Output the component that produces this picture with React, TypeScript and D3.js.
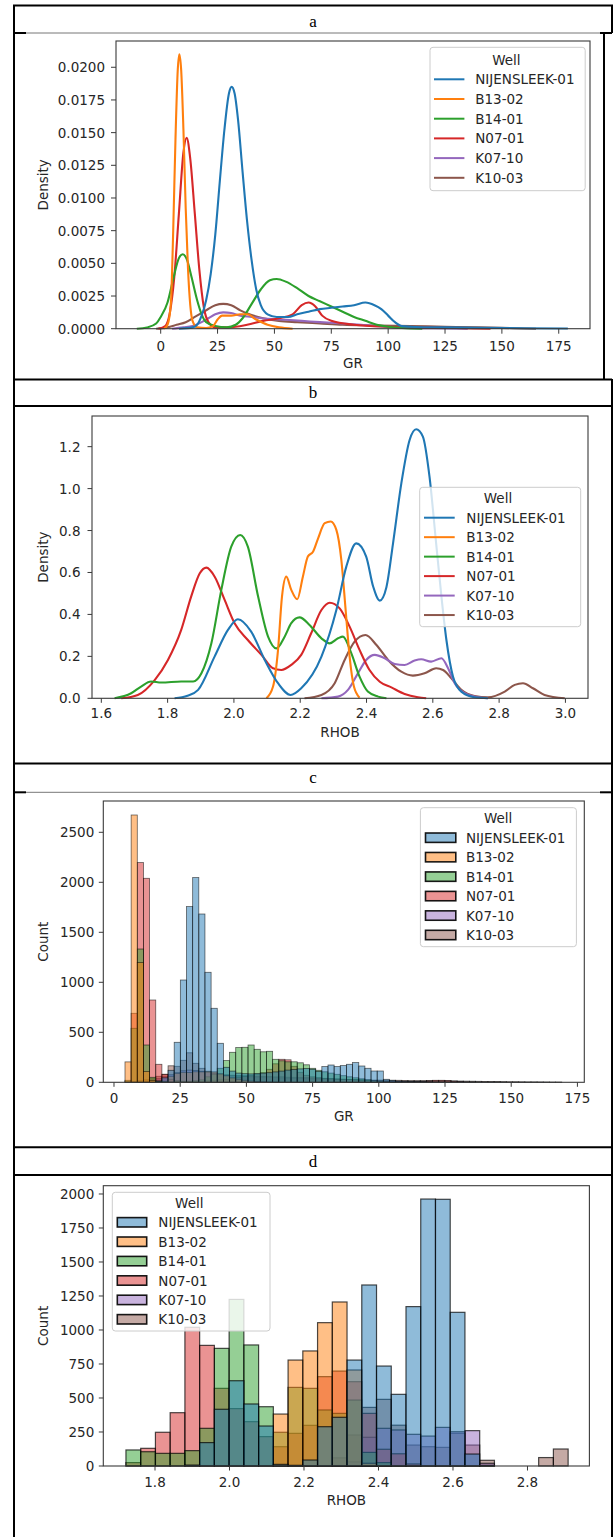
import React from "react";
import * as d3 from "d3";

const WELLS = ["NIJENSLEEK-01", "B13-02", "B14-01", "N07-01", "K07-10", "K10-03"];
const COLORS = ["#1f77b4", "#ff7f0e", "#2ca02c", "#d62728", "#9467bd", "#8c564b"];

// ---- Panel a: KDE of GR (x = GR, y = density) ----
const grKdeNij = [[8,0],[14,0.0001],[16,0.0003],[18,0.001],[20,0.0022],[22,0.0042],[24,0.0072],[26,0.0113],[28,0.0152],[30,0.018],[31.2,0.0185],[32.5,0.018],[34,0.016],[36,0.012],[38,0.0082],[40,0.0052],[42,0.003],[44,0.0018],[47,0.0011],[51,0.0009],[56,0.0009],[60,0.0011],[65,0.0013],[70,0.0015],[75,0.0016],[80,0.0017],[85,0.0018],[90,0.002],[94,0.0018],[97,0.0015],[100,0.001],[103,0.0005],[106,0.0002],[112,0.00013],[125,0.0001],[140,0.00007],[160,0.00004],[179,0.00001]];
const grKdeB13 = [[1.5,0],[3,0.0003],[4.5,0.002],[5.5,0.0075],[6.5,0.0145],[7.5,0.0198],[8.2,0.021],[9,0.0198],[10,0.0152],[11,0.0092],[12,0.0046],[13,0.0018],[14,0.0006],[16,0.0001],[20,0.00005],[23,0.0002],[25,0.0007],[27,0.001],[31,0.001],[35,0.0011],[38,0.0011],[42,0.0007],[47,0.0003],[52,0.0001],[58,0]];
const grKdeB14 = [[-10.5,0],[-6,0.0001],[-2,0.0004],[0,0.0009],[3,0.002],[5.5,0.0038],[8,0.0054],[9.7,0.0057],[11.5,0.0053],[13.5,0.004],[16,0.0022],[18,0.0011],[20,0.0005],[24,0.0002],[29,0.0001],[33,0.0003],[36,0.0008],[40,0.0019],[44,0.003],[48,0.0037],[51,0.0038],[55,0.0036],[60,0.0031],[65,0.0025],[70,0.0021],[75,0.0017],[80,0.0013],[85,0.0009],[90,0.0006],[95,0.0003],[100,0.00015],[106,0.00005],[115,0]];
const grKdeN07 = [[-1,0],[2,0.0002],[4,0.0012],[6,0.004],[8,0.0088],[10,0.0135],[11.4,0.0146],[13,0.013],[15,0.0088],[17,0.0045],[19,0.0016],[21,0.0005],[24,0.0001],[30,0.0001],[38,0.0003],[45,0.0006],[52,0.0008],[58,0.0011],[62,0.0018],[65,0.002],[68,0.0017],[71,0.001],[75,0.0006],[85,0.0003],[100,0.00015],[115,0.0001],[130,0.00005],[145,0]];
const grKdeK07 = [[5,0],[10,0.0001],[14,0.0002],[18,0.0005],[21,0.0008],[24,0.0011],[27.5,0.00125],[31,0.0012],[35,0.001],[40,0.0009],[47,0.00075],[55,0.00068],[62,0.0006],[70,0.0005],[80,0.0004],[88,0.0003],[95,0.0002],[105,0.0001],[120,0.00003],[135,0]];
const grKdeK10 = [[-2,0],[3,0.0001],[7,0.0003],[11,0.0005],[15,0.0009],[20,0.0014],[24,0.0018],[27.5,0.0019],[31,0.0018],[35,0.0014],[39,0.0011],[45,0.0008],[52,0.0006],[60,0.0005],[70,0.0004],[80,0.0003],[95,0.00025],[110,0.0002],[125,0.00015],[140,0.0001],[155,0.00004],[165,0]];

// ---- Panel b: KDE of RHOB ----
const rhobKdeNij = [[1.821,0],[1.86,0.012],[1.892,0.04],[1.942,0.2],[1.982,0.326],[2.012,0.377],[2.052,0.318],[2.093,0.183],[2.133,0.072],[2.171,0.016],[2.203,0.048],[2.264,0.199],[2.309,0.421],[2.339,0.628],[2.369,0.739],[2.399,0.676],[2.42,0.533],[2.44,0.466],[2.46,0.53],[2.48,0.739],[2.505,1.025],[2.53,1.232],[2.55,1.283],[2.57,1.248],[2.59,1.057],[2.61,0.739],[2.626,0.485],[2.641,0.278],[2.661,0.103],[2.686,0.032],[2.726,0.005],[2.766,0]];
const rhobKdeB13 = [[2.098,0],[2.118,0.056],[2.133,0.23],[2.145,0.485],[2.158,0.58],[2.173,0.517],[2.191,0.472],[2.208,0.58],[2.223,0.676],[2.239,0.7],[2.254,0.763],[2.274,0.835],[2.292,0.843],[2.309,0.803],[2.324,0.66],[2.337,0.421],[2.349,0.199],[2.362,0.056],[2.379,0.003]];
const rhobKdeB14 = [[1.64,0],[1.69,0.024],[1.72,0.056],[1.75,0.08],[1.781,0.075],[1.841,0.08],[1.877,0.08],[1.902,0.119],[1.932,0.262],[1.962,0.517],[1.992,0.723],[2.019,0.779],[2.042,0.723],[2.073,0.485],[2.103,0.294],[2.128,0.238],[2.153,0.294],[2.173,0.358],[2.198,0.386],[2.228,0.35],[2.264,0.286],[2.289,0.262],[2.314,0.286],[2.329,0.294],[2.354,0.215],[2.379,0.103],[2.404,0.032],[2.435,0.008],[2.46,0]];
const rhobKdeN07 = [[1.66,0],[1.71,0.016],[1.761,0.087],[1.801,0.183],[1.841,0.326],[1.871,0.485],[1.897,0.596],[1.917,0.623],[1.942,0.58],[1.972,0.469],[2.002,0.358],[2.042,0.278],[2.083,0.207],[2.118,0.143],[2.143,0.135],[2.173,0.159],[2.203,0.207],[2.233,0.31],[2.264,0.421],[2.289,0.456],[2.319,0.429],[2.349,0.342],[2.379,0.231],[2.409,0.135],[2.44,0.079],[2.475,0.052],[2.515,0.021],[2.555,0.005],[2.58,0]];
const rhobKdeK07 = [[2.264,0],[2.314,0.008],[2.344,0.04],[2.374,0.119],[2.399,0.183],[2.425,0.207],[2.455,0.191],[2.485,0.164],[2.515,0.159],[2.545,0.18],[2.565,0.186],[2.595,0.175],[2.626,0.191],[2.646,0.143],[2.666,0.072],[2.696,0.024],[2.736,0.005],[2.766,0]];
const rhobKdeK10 = [[2.213,0],[2.264,0.016],[2.304,0.072],[2.334,0.183],[2.364,0.27],[2.397,0.302],[2.43,0.254],[2.465,0.183],[2.505,0.127],[2.54,0.108],[2.575,0.119],[2.61,0.143],[2.631,0.135],[2.656,0.095],[2.686,0.04],[2.726,0.011],[2.766,0.005],[2.817,0.032],[2.847,0.064],[2.872,0.072],[2.902,0.048],[2.937,0.016],[2.998,0]];

// ---- Panel c: histogram of GR (71 common bins) ----
const GR_BIN_START = 4.15;
const GR_BIN_WIDTH = 2.323;
const grHistNij = [0,0,0,0,0, 10,45,120,400,1023, 1757,2047,1683,1100,740, 390,150,112,92,86, 84,88,92,96,104, 112,122,128,134,138, 130,108,157,173,157, 167,180,197,163,140, 113,113,30,20,12, 10,9,8,8,7, 6,6,5,5,5, 4,4,4,3,3, 3,3,2,2,2, 2,2,2,1,1, 1];
const grHistB13 = [204,2673,1197,107,20, 5,10,60,90,100, 98,105,104,110,105, 85,65,45,30,20, 12,8,5,3,1, 0,0,0,0,0, 0,0,0,0,0, 0,0,0,0,0, 0,0,0,0,0, 0,0,0,0,0, 0,0,0,0,0, 0,0,0,0,0, 0,0,0,0,0, 0,0,0,0,0, 0];
const grHistB14 = [20,540,1333,373,50, 15,5,3,12,10, 10,15,25,55,80, 140,217,300,347,350, 373,330,305,310,230, 215,205,205,195,175, 140,120,105,92,80, 66,55,45,35,25, 15,10,5,3,2, 0,0,0,0,0, 0,0,0,0,0, 0,0,0,0,0, 0,0,0,0,0, 0,0,0,0,0, 0];
const grHistN07 = [10,690,2197,2040,823, 180,80,30,15,10, 10,10,12,15,20, 25,30,40,50,60, 70,80,95,130,185, 230,225,160,100,70, 55,45,40,35,32, 30,28,25,22,20, 18,15,12,10,10, 10,8,8,10,15, 20,20,18,12,8, 3,2,0,0,0, 0,0,0,0,0, 0,0,0,0,0, 0];
const grHistK07 = [0,0,5,10,20, 35,55,75,95,115, 122,117,110,98,90, 82,74,71,67,66, 62,61,57,58,54, 55,51,50,47,46, 43,42,39,38,34, 31,28,24,21,16, 13,10,8,6,5, 4,3,2,2,1, 0,0,0,0,0, 0,0,0,0,0, 0,0,0,0,0, 0,0,0,0,0, 0];
const grHistK10 = [0,5,15,25,40, 60,80,165,160,220, 295,190,140,110,95, 80,72,65,60,57, 55,52,50,48,46, 44,42,40,38,36, 34,32,30,29,28, 27,26,25,24,23, 22,22,21,20,20, 19,18,18,17,17, 16,16,15,14,13, 12,11,10,9,8, 7,6,5,5,4, 3,3,2,2,1, 1];

// ---- Panel d: histogram of RHOB (30 common bins) ----
const RHOB_BIN_START = 1.722;
const RHOB_BIN_WIDTH = 0.03957;
const rhobHistNij = [0,0,0,0,7,172,417,627,456,294,12,5,44,289,358,779,1331,735,527,1172,1963,1961,1130,88,5,0,0,0,0,0];
const rhobHistB13 = [0,0,0,0,0,0,0,0,0,0,382,779,846,1054,1206,706,20,0,0,0,0,0,0,0,0,0,0,0,0,0];
const rhobHistB14 = [118,105,93,93,113,277,865,1225,890,436,248,578,571,412,387,485,100,25,0,0,0,0,0,0,0,0,0,0,0,0];
const rhobHistN07 = [25,130,248,392,1020,887,571,422,326,216,142,240,299,657,698,620,387,123,90,15,0,0,0,0,0,0,0,0,0,0];
const rhobHistK07 = [0,0,0,0,0,0,0,0,0,0,0,0,0,0,0,30,211,277,265,233,220,284,252,260,20,0,0,0,0,0];
const rhobHistK10 = [0,0,0,0,0,0,0,0,0,0,0,0,0,0,60,228,431,490,300,154,142,137,240,154,42,0,0,0,62,125];

// ---- tick values ----
const grTicks = [0, 25, 50, 75, 100, 125, 150, 175];
const densATicks = [0, 0.0025, 0.005, 0.0075, 0.01, 0.0125, 0.015, 0.0175, 0.02];
const rhobBTicks = [1.6, 1.8, 2.0, 2.2, 2.4, 2.6, 2.8, 3.0];
const densBTicks = [0, 0.2, 0.4, 0.6, 0.8, 1.0, 1.2];
const countCTicks = [0, 500, 1000, 1500, 2000, 2500];
const rhobDTicks = [1.8, 2.0, 2.2, 2.4, 2.6, 2.8];
const countDTicks = [0, 250, 500, 750, 1000, 1250, 1500, 1750, 2000];

const FONT = "'DejaVu Sans', sans-serif";
const FS = 13.5;
const TXT = "#262626";

type Sc = d3.ScaleLinear<number, number>;

function Axes(props: {
  x: Sc; y: Sc; xTicks: number[]; yTicks: number[];
  xFmt: (v: number) => string; yFmt: (v: number) => string;
  xLabel: string; yLabel: string; xLabelY: number; yLabelX: number;
  yOff: number; xOff: number; tick: number;
}) {
  const { x, y } = props;
  const [x0, x1] = x.range();
  const [y0, y1] = y.range();
  return (
    <g>
      <rect x={x0} y={y1} width={x1 - x0} height={y0 - y1} fill="none" stroke="#3a3a3a" strokeWidth={1.1} />
      {props.xTicks.map((t) => (
        <g key={"x" + t}>
          <line x1={x(t)} x2={x(t)} y1={y0} y2={y0 + props.tick} stroke="#3a3a3a" strokeWidth={1} />
          <text x={x(t)} y={y0 + props.xOff} textAnchor="middle" dominantBaseline="central" fontFamily={FONT} fontSize={FS} fill={TXT}>{props.xFmt(t)}</text>
        </g>
      ))}
      {props.yTicks.map((t) => (
        <g key={"y" + t}>
          <line x1={x0} x2={x0 - props.tick} y1={y(t)} y2={y(t)} stroke="#3a3a3a" strokeWidth={1} />
          <text x={x0 - props.yOff} y={y(t)} textAnchor="end" dominantBaseline="central" fontFamily={FONT} fontSize={FS} fill={TXT}>{props.yFmt(t)}</text>
        </g>
      ))}
      <text x={(x0 + x1) / 2} y={props.xLabelY} textAnchor="middle" dominantBaseline="central" fontFamily={FONT} fontSize={FS} fill={TXT}>{props.xLabel}</text>
      <text transform={`translate(${props.yLabelX},${(y0 + y1) / 2}) rotate(-90)`} textAnchor="middle" dominantBaseline="central" fontFamily={FONT} fontSize={FS} fill={TXT}>{props.yLabel}</text>
    </g>
  );
}

function Legend(props: { bx0: number; by0: number; bx1: number; by1: number; titleX: number; titleY: number; rowY0: number; rowStep: number; hx0: number; hx1: number; tx: number; kind: "line" | "patch" }) {
  const p = props;
  return (
    <g>
      <rect x={p.bx0} y={p.by0} width={p.bx1 - p.bx0} height={p.by1 - p.by0} rx={3} fill="#fff" fillOpacity={0.8} stroke="#cccccc" strokeWidth={1} />
      <text x={p.titleX} y={p.titleY} textAnchor="middle" dominantBaseline="central" fontFamily={FONT} fontSize={FS} fill={TXT}>Well</text>
      {WELLS.map((w, i) => {
        const cy = p.rowY0 + i * p.rowStep;
        return (
          <g key={w}>
            {p.kind === "line" ? (
              <line x1={p.hx0} x2={p.hx1} y1={cy} y2={cy} stroke={COLORS[i]} strokeWidth={2} />
            ) : (
              <rect x={p.hx0} y={cy - 4.7} width={p.hx1 - p.hx0} height={9.4} fill={COLORS[i]} fillOpacity={0.5} stroke="#000" strokeOpacity={0.9} strokeWidth={1.6} />
            )}
            <text x={p.tx} y={cy} dominantBaseline="central" fontFamily={FONT} fontSize={FS} fill={TXT}>{w}</text>
          </g>
        );
      })}
    </g>
  );
}

function Kde(props: { x: Sc; y: Sc; series: number[][][] }) {
  const line = d3.line<number[]>().x((d) => props.x(d[0])).y((d) => props.y(d[1])).curve(d3.curveMonotoneX);
  const order = props.series.map((_, i) => i).reverse();
  return (
    <g>
      {order.map((i) => (
        <path key={i} d={line(props.series[i]) || ""} fill="none" stroke={COLORS[i]} strokeWidth={2.1} strokeLinejoin="round" />
      ))}
    </g>
  );
}

function Hist(props: { x: Sc; y: Sc; series: number[][]; start: number; width: number; sw: number; so: number }) {
  const order = props.series.map((_, i) => i).reverse();
  return (
    <g>
      {order.map((s) => (
        <g key={s}>
          {props.series[s].map((c, b) => {
            if (c <= 0) return null;
            const xa = props.x(props.start + b * props.width);
            const xb = props.x(props.start + (b + 1) * props.width);
            const yt = props.y(c);
            return (
              <rect key={b} x={xa} y={yt} width={xb - xa} height={props.y(0) - yt} fill={COLORS[s]} fillOpacity={0.5} stroke="#000" strokeOpacity={props.so} strokeWidth={props.sw} />
            );
          })}
        </g>
      ))}
    </g>
  );
}

function Frame() {
  const L = 14, R = 612;
  const blk = { stroke: "#000", strokeWidth: 2 };
  const headers = [
    { t: "a", y: 21 },
    { t: "b", y: 392.5 },
    { t: "c", y: 777.5 },
    { t: "d", y: 1161 },
  ];
  return (
    <g>
      <line x1={13} x2={613} y1={5.5} y2={5.5} {...blk} />
      <line x1={L} x2={L} y1={5} y2={1537} {...blk} />
      <line x1={R} x2={R} y1={5} y2={33} {...blk} />
      <line x1={604} x2={604} y1={33} y2={380} {...blk} />
      <line x1={R} x2={R} y1={379} y2={1537} {...blk} />
      <line x1={L} x2={26} y1={33} y2={33} {...blk} />
      <line x1={26} x2={600} y1={33} y2={33} stroke="#777" strokeWidth={1} />
      <line x1={600} x2={R} y1={33} y2={33} {...blk} />
      <line x1={L} x2={R} y1={379.5} y2={379.5} {...blk} />
      <line x1={L} x2={R} y1={406} y2={406} {...blk} />
      <line x1={L} x2={R} y1={763.5} y2={763.5} {...blk} />
      <line x1={L} x2={26} y1={792.3} y2={792.3} {...blk} />
      <line x1={26} x2={600} y1={792.3} y2={792.3} stroke="#777" strokeWidth={1} />
      <line x1={600} x2={R} y1={792.3} y2={792.3} {...blk} />
      <line x1={L} x2={R} y1={1147.3} y2={1147.3} {...blk} />
      <line x1={L} x2={R} y1={1175} y2={1175} {...blk} />
      {headers.map((h) => (
        <text key={h.t} x={313} y={h.y} textAnchor="middle" dominantBaseline="central" fontFamily="'Liberation Serif', 'Times New Roman', serif" fontSize={17} fill="#000">{h.t}</text>
      ))}
    </g>
  );
}

export default function App() {
  const xA = d3.scaleLinear().domain([-19.65, 188.74]).range([116, 590]);
  const yA = d3.scaleLinear().domain([0, 0.02201]).range([328.7, 41]);
  const xB = d3.scaleLinear().domain([1.5719, 3.0681]).range([92, 588]);
  const yB = d3.scaleLinear().domain([0, 1.3462]).range([698.3, 416]);
  const xC = d3.scaleLinear().domain([-4.04, 177.6]).range([103.3, 584.3]);
  const yC = d3.scaleLinear().domain([0, 2813]).range([1082.3, 801]);
  const xD = d3.scaleLinear().domain([1.6612, 2.9662]).range([103.3, 589.4]);
  const yD = d3.scaleLinear().domain([0, 2061]).range([1466, 1185.7]);

  const intFmt = (v: number) => String(v);
  const f1 = d3.format(".1f");
  const f4 = d3.format(".4f");

  return (
    <div style={{ position: "absolute", left: 0, top: 0, background: "#fff" }}>
      <svg width={616} height={1537} viewBox="0 0 616 1537" style={{ display: "block" }}>
        <rect x={0} y={0} width={616} height={1537} fill="#fff" />

        {/* Panel a */}
        <Kde x={xA} y={yA} series={[grKdeNij, grKdeB13, grKdeB14, grKdeN07, grKdeK07, grKdeK10]} />
        <Axes x={xA} y={yA} xTicks={grTicks} yTicks={densATicks} xFmt={intFmt} yFmt={f4} xLabel="GR" yLabel="Density" xLabelY={363} yLabelX={43} yOff={11} xOff={17.3} tick={5} />
        <Legend bx0={430} by0={47.3} bx1={585.2} by1={190.7} titleX={506.4} titleY={60} rowY0={79.3} rowStep={19.7} hx0={434} hx1={464.4} tx={475.2} kind="line" />

        {/* Panel b */}
        <Kde x={xB} y={yB} series={[rhobKdeNij, rhobKdeB13, rhobKdeB14, rhobKdeN07, rhobKdeK07, rhobKdeK10]} />
        <Axes x={xB} y={yB} xTicks={rhobBTicks} yTicks={densBTicks} xFmt={f1} yFmt={f1} xLabel="RHOB" yLabel="Density" xLabelY={731.7} yLabelX={43} yOff={11.5} xOff={15} tick={4.5} />
        <Legend bx0={419.7} by0={487.3} bx1={580.7} by1={626.7} titleX={498} titleY={498.3} rowY0={517.7} rowStep={19.47} hx0={424} hx1={454.7} tx={466.3} kind="line" />

        {/* Panel c */}
        <Hist x={xC} y={yC} series={[grHistNij, grHistB13, grHistB14, grHistN07, grHistK07, grHistK10]} start={GR_BIN_START} width={GR_BIN_WIDTH} sw={0.8} so={0.6} />
        <Axes x={xC} y={yC} xTicks={grTicks} yTicks={countCTicks} xFmt={intFmt} yFmt={intFmt} xLabel="GR" yLabel="Count" xLabelY={1116} yLabelX={43} yOff={9} xOff={16} tick={4.5} />
        <Legend bx0={420.4} by0={807.7} bx1={576.4} by1={946.7} titleX={498.2} titleY={818} rowY0={837.7} rowStep={19.46} hx0={425.5} hx1={455.8} tx={466} kind="patch" />

        {/* Panel d */}
        <Hist x={xD} y={yD} series={[rhobHistNij, rhobHistB13, rhobHistB14, rhobHistN07, rhobHistK07, rhobHistK10]} start={RHOB_BIN_START} width={RHOB_BIN_WIDTH} sw={1.2} so={0.7} />
        <Axes x={xD} y={yD} xTicks={rhobDTicks} yTicks={countDTicks} xFmt={f1} yFmt={intFmt} xLabel="RHOB" yLabel="Count" xLabelY={1500} yLabelX={43} yOff={9} xOff={15.7} tick={4.5} />
        <Legend bx0={112.3} by0={1192.3} bx1={270} by1={1331} titleX={189.3} titleY={1203.3} rowY0={1222.3} rowStep={19.4} hx0={117.3} hx1={146.7} tx={158.3} kind="patch" />

        <Frame />
      </svg>
    </div>
  );
}
